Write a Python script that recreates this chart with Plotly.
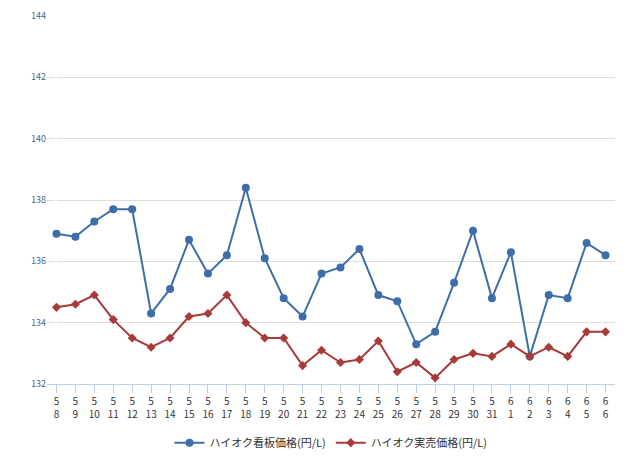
import plotly.graph_objects as go

dates = ["5/8","5/9","5/10","5/11","5/12","5/13","5/14","5/15","5/16","5/17","5/18","5/19","5/20","5/21","5/22",
         "5/23","5/24","5/25","5/26","5/27","5/28","5/29","5/30","5/31","6/1","6/2","6/3","6/4","6/5","6/6"]
sign_price = [136.9,136.8,137.3,137.7,137.7,134.3,135.1,136.7,135.6,136.2,138.4,136.1,134.8,134.2,135.6,
              135.8,136.4,134.9,134.7,133.3,133.7,135.3,137.0,134.8,136.3,132.9,134.9,134.8,136.6,136.2]
real_price = [134.5,134.6,134.9,134.1,133.5,133.2,133.5,134.2,134.3,134.9,134.0,133.5,133.5,132.6,133.1,
              132.7,132.8,133.4,132.4,132.7,132.2,132.8,133.0,132.9,133.3,132.9,133.2,132.9,133.7,133.7]

labels = [d.replace("/", "<br>") for d in dates]
x = list(range(len(dates)))

fig = go.Figure()
fig.add_trace(go.Scatter(x=x, y=sign_price, mode="lines+markers", name="ハイオク看板価格(円/L)",
                         line=dict(color="#3d6ea8", width=2), marker=dict(size=8, color="#3d6ea8")))
fig.add_trace(go.Scatter(x=x, y=real_price, mode="lines+markers", name="ハイオク実売価格(円/L)",
                         line=dict(color="#a83a3a", width=2), marker=dict(size=7, symbol="diamond", color="#a83a3a")))

fig.update_layout(
    width=640, height=460, plot_bgcolor="white", paper_bgcolor="white",
    margin=dict(l=39, r=33, t=8, b=84, autoexpand=False),
    font=dict(family="Noto Sans CJK JP, sans-serif", size=10, color="#333"),
    legend=dict(orientation="h", x=0.5, xanchor="center", y=-0.12, yanchor="top", font=dict(size=11)),
    showlegend=True,
)
fig.update_xaxes(tickmode="array", tickvals=x, ticktext=labels, range=[-0.5, len(dates)-0.5],
                 showgrid=False, showline=True, linecolor="#c0d0e0", ticks="outside", ticklen=8,
                 tickcolor="#c0d0e0", tickfont=dict(size=10, color="#333"), automargin=False)
fig.update_yaxes(range=[132, 144], dtick=2, showgrid=True, gridcolor="#dddddd", zeroline=False,
                 tickfont=dict(size=9, color="#4a6a8a"), automargin=False)

fig.write_html("out.html")
